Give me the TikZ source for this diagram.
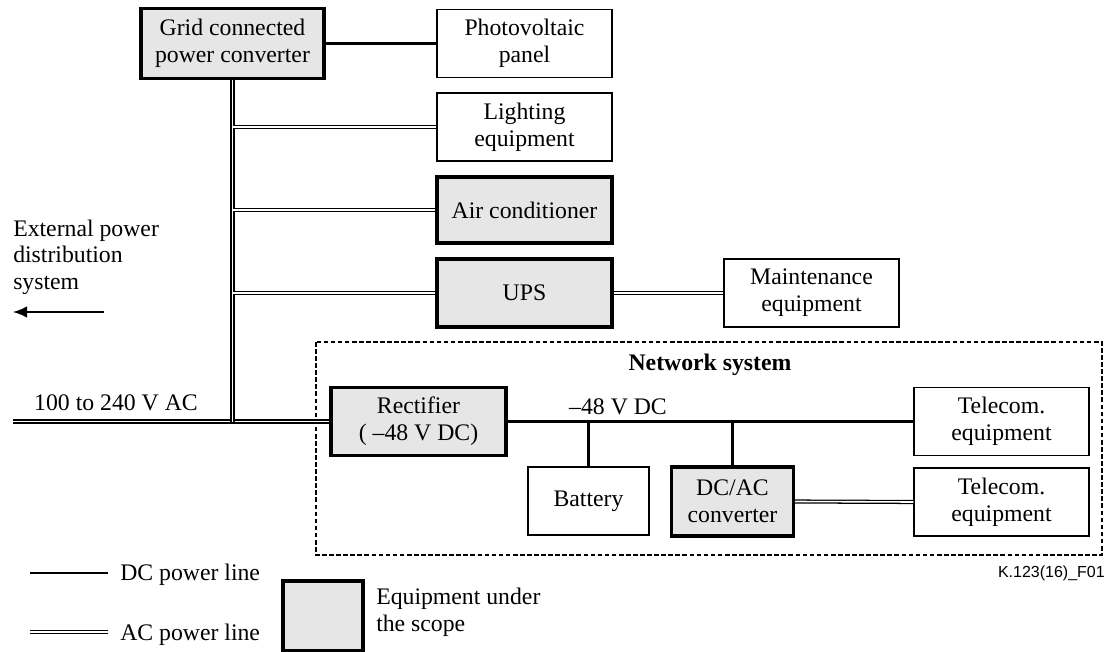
\documentclass[tikz,border=0pt]{standalone}
\usepackage{fontspec}
\setmainfont{Liberation Serif}
\newfontfamily\labelsans{Liberation Sans}
\usetikzlibrary{arrows.meta}
\definecolor{scopegray}{RGB}{230,230,230}
\tikzset{
  txt/.style={font=\fontsize{17.8pt}{20pt}\selectfont, align=center, inner sep=0pt},
  plainbox/.style={txt, draw, line width=1.1pt, minimum height=51pt},
  scopebox/.style={txt, draw, line width=2.4pt, fill=scopegray, minimum height=51pt},
  dcline/.style={line width=2.1pt},
  acline/.style={line width=0.95pt, double distance=1.2pt},
  netframe/.style={line width=2pt, dash pattern=on 3.5pt off 1.8pt},
}
\begin{document}
\begin{tikzpicture}[x=0.75pt,y=-0.75pt]
\useasboundingbox (0,0) rectangle (1110,652);

% top column
\node[scopebox, minimum width=137.25pt, minimum height=52.5pt] (grid) at (232.5,43.5) {Grid connected\\power converter};
\node[plainbox, minimum width=131.25pt] (pv) at (524.5,43.5) {Photovoltaic\\panel};
\node[plainbox, minimum width=131.25pt] (light) at (524.5,127) {Lighting\\equipment};
\node[scopebox, minimum width=131.25pt, minimum height=49.5pt] (air) at (524.5,210) {Air conditioner};
\node[scopebox, minimum width=131.25pt] (ups) at (524.5,293) {UPS};
\node[plainbox, minimum width=131.25pt] (maint) at (811.5,293) {Maintenance\\equipment};

% network system
\draw[netframe] (316,342) rectangle (1102,555);
\node[txt, font=\fontsize{17.8pt}{20pt}\selectfont\bfseries] (nettitle) at (710,365) {Network system};
\node[scopebox, minimum width=131.25pt] (rect) at (418.5,421.5) {Rectifier\\( –48 V DC)};
\node[plainbox, minimum width=90.75pt] (batt) at (588.5,501) {Battery};
\node[scopebox, minimum width=91.5pt, minimum height=51.75pt] (dcac) at (732.5,501.5) {DC/AC\\converter};
\node[plainbox, minimum width=131.25pt] (tel1) at (1001.5,421.5) {Telecom.\\equipment};
\node[plainbox, minimum width=131.25pt] (tel2) at (1001.5,502) {Telecom.\\equipment};
\node[txt] (dclabel) at (618,407) {–48 V DC};

% external
\node[txt, align=left, anchor=west] (ext) at (13,257) {External power\\distribution\\system};
\coordinate (arrowtail) at (104,312);
\coordinate (arrowtip) at (13,312);
\draw[line width=1.1pt, -{Latex[length=10.5pt,width=8.5pt]}] (arrowtail) -- (arrowtip);
\coordinate (extend) at (13,421.5);
\node[txt] (aclabel) at (116,403) {100 to 240 V AC};

% AC lines
\draw[acline] (extend) -- (rect.west);
\draw[acline] (grid.south) -- (grid.south |- extend);
\draw[acline] (grid.south |- light.west) -- (light.west);
\draw[acline] (grid.south |- air.west) -- (air.west);
\draw[acline] (grid.south |- ups.west) -- (ups.west);
\draw[acline] (ups.east) -- (maint.west);
\draw[acline] (dcac.east) -- (tel2.west);

% DC lines
\draw[dcline] (grid.east) -- (pv.west);
\draw[dcline] (rect.east) -- (tel1.west);
\draw[dcline] (batt.north) -- (batt.north |- rect.east);
\draw[dcline] (dcac.north) -- (dcac.north |- rect.east);

% figure id
\node[inner sep=0pt, anchor=east, font=\labelsans\fontsize{12pt}{14pt}\selectfont] (figid) at (1105,573) {K.123(16)\_F01};

% legend
\coordinate (dcA) at (30,573);
\coordinate (dcB) at (108,573);
\draw[dcline] (dcA) -- (dcB);
\node[txt, anchor=west] (dctext) at (120,575) {DC power line};
\coordinate (acA) at (30,632);
\coordinate (acB) at (108,632);
\draw[acline] (acA) -- (acB);
\node[txt, anchor=west] (actext) at (120,635) {AC power line};
\node[scopebox, minimum width=60pt, minimum height=52.5pt] (legbox) at (323,616) {};
\node[txt, align=left, anchor=west] (legtext) at (376,612) {Equipment under\\the scope};
\end{tikzpicture}
\end{document}
